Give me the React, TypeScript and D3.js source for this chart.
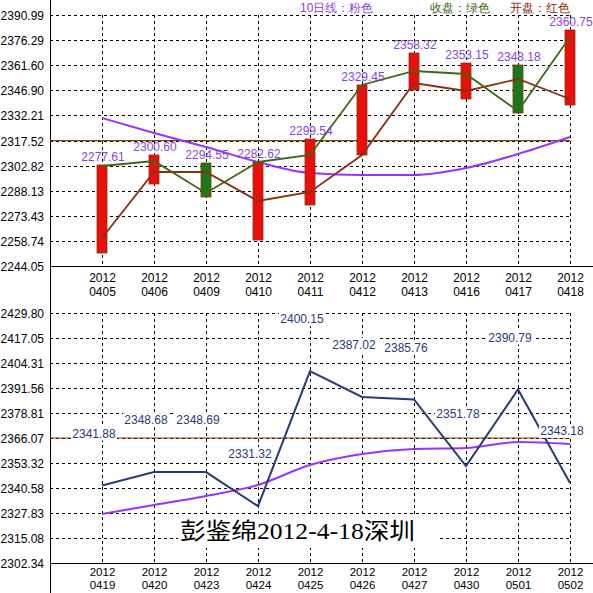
import React from "react";
import * as d3 from "d3";

const topDates = ["0405", "0406", "0409", "0410", "0411", "0412", "0413", "0416", "0417", "0418"];
const topOpen = [2260.45, 2299.08, 2299.08, 2282.1, 2287.37, 2309.03, 2351.18, 2346.5, 2353.52, 2341.82];
const topClose = [2302.6, 2305.52, 2286.79, 2304.94, 2309.03, 2350.01, 2358.21, 2356.45, 2334.79, 2378.11];
const topHigh = [2303.18, 2309.03, 2304.35, 2304.94, 2318.4, 2350.01, 2368.74, 2362.89, 2361.72, 2382.21];
const topLow = [2251.66, 2292.06, 2284.45, 2259.27, 2279.76, 2309.03, 2347.08, 2341.82, 2333.62, 2338.3];
const topMA10 = [2330.69, 2321.91, 2313.72, 2304.94, 2298.5, 2297.33, 2297.33, 2301.42, 2309.62, 2319.57];
const topLabels = ["2277.61", "2300.60", "2294.55", "2282.62", "2299.54", "2329.45", "2358.32", "2353.15", "2348.18", "2360.75"];
const topTicks = ["2244.05", "2258.74", "2273.43", "2288.13", "2302.82", "2317.52", "2332.21", "2346.90", "2361.60", "2376.29", "2390.99"];
const topRefLine = 2317.4;

const botDates = ["0419", "0420", "0423", "0424", "0425", "0426", "0427", "0430", "0501", "0502"];
const botValues = [2341.88, 2348.68, 2348.69, 2331.32, 2400.15, 2387.02, 2385.76, 2351.78, 2390.79, 2343.18];
const botMA = [2327.32, 2331.91, 2336.5, 2342.11, 2352.3, 2357.91, 2360.46, 2360.97, 2364.03, 2363.01];
const botTicks = ["2302.34", "2315.08", "2327.83", "2340.58", "2353.32", "2366.07", "2378.81", "2391.56", "2404.31", "2417.05", "2429.80"];
const botRefLine = 2366.07;

const yearLabel = "2012";
const legendItems = [
  { text: "10日线：粉色", color: "#8a3fd6" },
  { text: "收盘：绿色", color: "#3d6a10" },
  { text: "开盘：红色", color: "#8a2a08" },
];
const signature = "彭鉴绵2012-4-18深圳";

const W = 593, H = 593;
const AXIS_X = 50, PLOT_R = 570;
const FONT = "'Liberation Sans', Arial, sans-serif";
const C_PURPLE = "#9933ff";
const C_GREEN = "#3d6a10";
const C_BROWN = "#8a3010";
const C_RED = "#e8100c";
const C_GBAR = "#1a7a1a";
const C_NAVY = "#283a78";
const C_REF = "#804000";

export default function App() {
  const xTop = d3.scalePoint<string>().domain(topDates).range([102, PLOT_R]);
  const xBot = d3.scalePoint<string>().domain(botDates).range([102, PLOT_R]);
  const yTop = d3.scaleLinear().domain([2244.05, 2390.99]).range([266, 15]);
  const yBot = d3.scaleLinear().domain([2302.34, 2429.8]).range([563, 313]);

  const lineTop = (vals: number[]) =>
    d3.line<number>().x((_, i) => xTop(topDates[i])!).y((v) => yTop(v))(vals) || "";
  const maTop =
    d3.line<number>().x((_, i) => xTop(topDates[i])!).y((v) => yTop(v)).curve(d3.curveMonotoneX)(topMA10) || "";
  const lineBot =
    d3.line<number>().x((_, i) => xBot(botDates[i])!).y((v) => yBot(v))(botValues) || "";
  const maBot =
    d3.line<number>().x((_, i) => xBot(botDates[i])!).y((v) => yBot(v)).curve(d3.curveMonotoneX)(botMA) || "";

  const panel = (
    ticks: string[],
    y: d3.ScaleLinear<number, number>,
    x: d3.ScalePoint<string>,
    dates: string[],
    axisY: number,
    l1: number,
    l2: number,
    fs: number,
    key: string
  ) => (
    <g key={key}>
      {ticks.map((t, i) => {
        const yy = Math.round(y(parseFloat(t))) + 0.5;
        return (
          <g key={t}>
            {i > 0 && (
              <line x1={AXIS_X} x2={PLOT_R} y1={yy} y2={yy} stroke="#000" strokeDasharray="3,3" />
            )}
            <text x={44} y={yy} dy="0.36em" textAnchor="end" fontSize={12} fontFamily={FONT} fill="#000">
              {t}
            </text>
          </g>
        );
      })}
      {dates.map((d) => {
        const xx = Math.round(x(d)!) + 0.5;
        return (
          <g key={d}>
            <line x1={xx} x2={xx} y1={y(parseFloat(ticks[ticks.length - 1]))} y2={axisY} stroke="#000" strokeDasharray="3,3" />
            <text x={xx} y={axisY + l1} dy="0.36em" textAnchor="middle" fontSize={fs} fontFamily={FONT}>
              {yearLabel}
            </text>
            <text x={xx} y={axisY + l2} dy="0.36em" textAnchor="middle" fontSize={fs} fontFamily={FONT}>
              {d}
            </text>
          </g>
        );
      })}
      <line x1={AXIS_X} x2={W} y1={axisY + 0.5} y2={axisY + 0.5} stroke="#000" />
    </g>
  );

  return (
    <svg
      width={W}
      height={H}
      style={{ position: "absolute", left: 0, top: 0, background: "#fff" }}
    >
      <rect width={W} height={H} fill="#fff" />
      {panel(topTicks, yTop, xTop, topDates, 266, 12, 26, 12, "top")}
      {panel(botTicks, yBot, xBot, botDates, 563, 9, 22, 11.5, "bot")}
      <line x1={AXIS_X + 0.5} x2={AXIS_X + 0.5} y1={0} y2={H} stroke="#000" />

      {/* legend */}
      <text x={300} y={8} dy="0.36em" fontSize={12} fontFamily={FONT} fill={legendItems[0].color}>
        {legendItems[0].text}
      </text>
      <text x={430} y={8} dy="0.36em" fontSize={12} fontFamily={FONT} fill={legendItems[1].color}>
        {legendItems[1].text}
      </text>
      <text x={510} y={8} dy="0.36em" fontSize={12} fontFamily={FONT} fill={legendItems[2].color}>
        {legendItems[2].text}
      </text>

      {/* top panel */}
      <line x1={AXIS_X} x2={PLOT_R} y1={yTop(topRefLine)} y2={yTop(topRefLine)} stroke={C_REF} strokeWidth={1.2} />
      <path d={maTop} fill="none" stroke={C_PURPLE} strokeWidth={2} />
      {topDates.map((d, i) => {
        const xx = xTop(d)!;
        const up = topClose[i] >= topOpen[i];
        const hi = yTop(topHigh[i]);
        const lo = yTop(topLow[i]);
        return (
          <rect key={d} x={xx - 5} y={hi} width={10} height={lo - hi} fill={up ? C_RED : C_GBAR} stroke={C_BROWN} strokeWidth={0.8} />
        );
      })}
      <path d={lineTop(topOpen)} fill="none" stroke={C_BROWN} strokeWidth={1.8} />
      <path d={lineTop(topClose)} fill="none" stroke={C_GREEN} strokeWidth={1.8} />
      {topDates.map((d, i) => (
        <text key={d} x={xTop(d)! + 1} y={yTop(topHigh[i]) - 8} dy="0.36em" textAnchor="middle" fontSize={12} fontFamily={FONT} fill="#8844dd">
          {topLabels[i]}
        </text>
      ))}

      {/* bottom panel */}
      <line x1={AXIS_X} x2={PLOT_R} y1={yBot(botRefLine)} y2={yBot(botRefLine)} stroke={C_REF} strokeWidth={1.2} />
      <path d={maBot} fill="none" stroke={C_PURPLE} strokeWidth={2} />
      <path d={lineBot} fill="none" stroke={C_NAVY} strokeWidth={2} />
      {botDates.map((d, i) => {
        const cx = xBot(d)! - 8;
        const cy = yBot(botValues[i]) - 52;
        return (
          <g key={d}>
            <rect x={cx - 23} y={cy - 7} width={46} height={14} fill="#fff" />
            <text x={cx} y={cy} dy="0.36em" textAnchor="middle" fontSize={12} fontFamily={FONT} fill={C_NAVY}>
              {botValues[i].toFixed(2)}
            </text>
          </g>
        );
      })}

      {/* signature */}
      <rect x={178} y={516} width={259} height={32} fill="#fff" />
      <text x={180} y={531} dy="0.36em" fontSize={23} fontFamily="'Liberation Serif', 'Noto Sans CJK SC', serif" fill="#000" textLength={235} lengthAdjust="spacingAndGlyphs">
        {signature}
      </text>
    </svg>
  );
}
